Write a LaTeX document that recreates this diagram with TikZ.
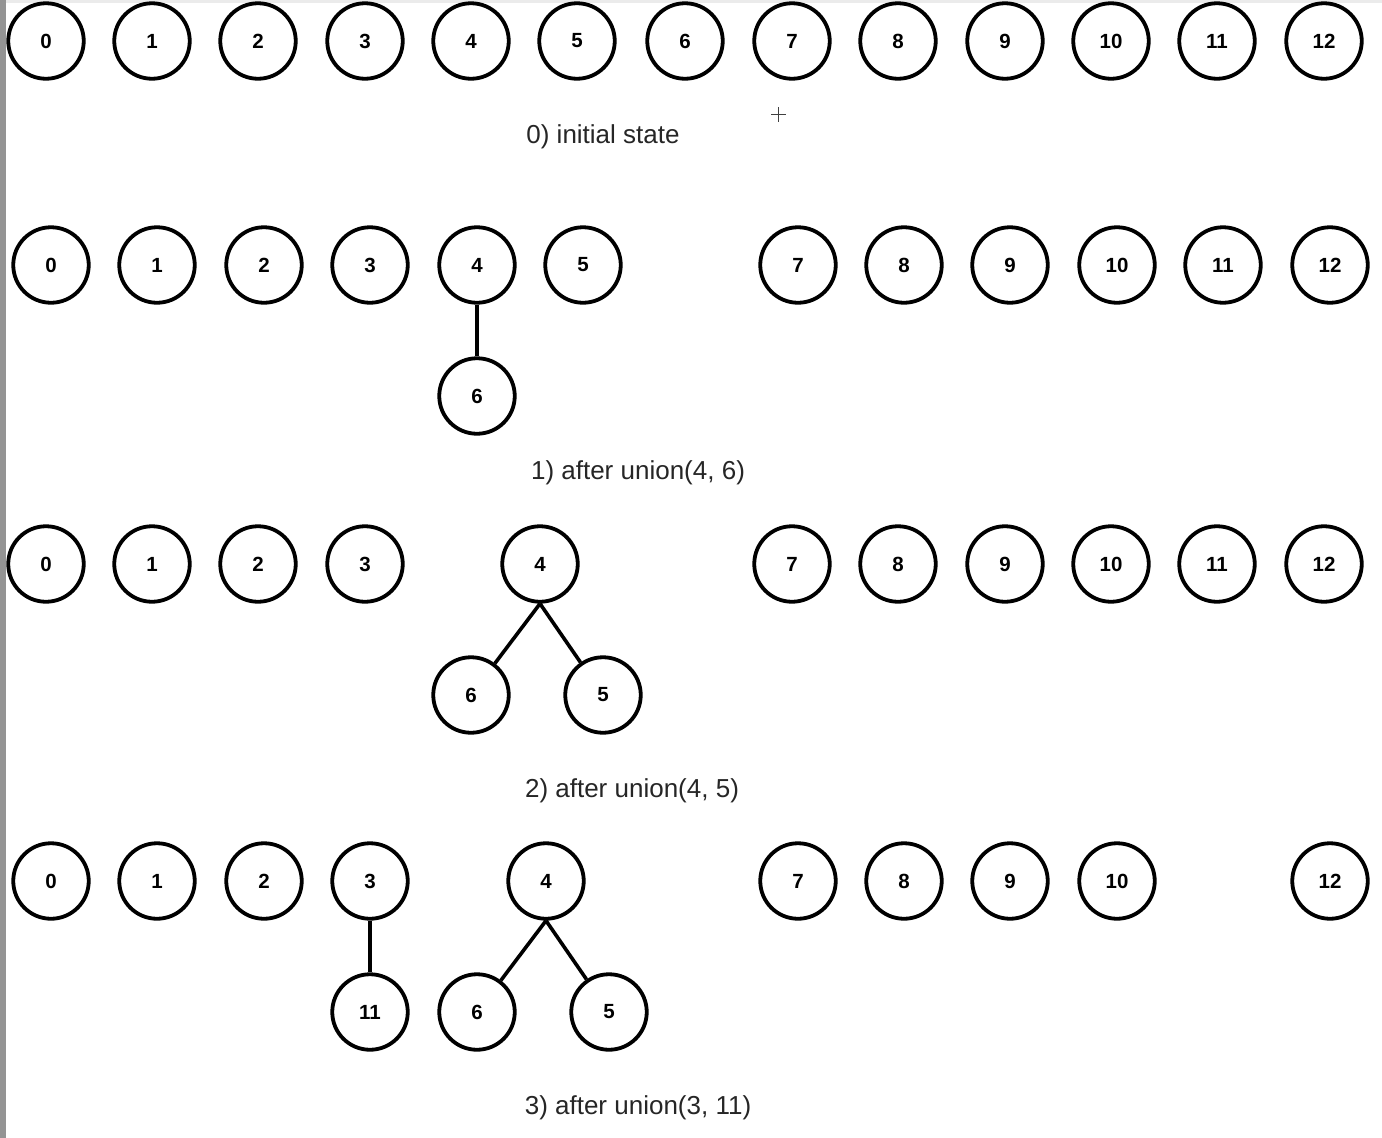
\documentclass[tikz,border=0pt]{standalone}
\usepackage{fontspec}
\setmainfont{Liberation Sans}
\begin{document}
\begin{tikzpicture}[x=1pt,y=-1pt,
  uf/.style={circle,draw=black,line width=3.8pt,minimum size=75.5pt,inner sep=0pt,font=\fontsize{20.5}{22}\selectfont\bfseries},
  link/.style={line width=3.6pt},
  steptext/.style={font=\fontsize{26}{28}\selectfont, text=black!85}]
\useasboundingbox (0,0) rectangle (1382,1138);
\fill[white] (0,0) rectangle (1382,1138);
\fill[black!8] (0,0) rectangle (1382,3);
\fill[black!42] (0,0) rectangle (6,1138);
% row 0
\foreach \x/\n in {46/0,152/1,258/2,365/3,471/4,577/5,685/6,792/7,898/8,1005/9,1111/10,1217/11,1324/12}
  \node[uf] (a\n) at (\x,41) {\n};
\node[steptext] (capA) at (603,137) {0) initial state};
\draw[black!75,line width=1pt] (771,114) -- (786,114) (778.5,107) -- (778.5,122);
% row 1
\foreach \x/\n in {51/0,157/1,264/2,370/3,477/4,583/5,798/7,904/8,1010/9,1117/10,1223/11,1330/12}
  \node[uf] (b\n) at (\x,265) {\n};
\node[uf] (b6) at (477,396) {6};
\draw[link] (b4) -- (b6);
\node[steptext] (capB) at (638,473) {1) after union(4, 6)};
% row 2
\foreach \x/\n in {46/0,152/1,258/2,365/3,540/4,792/7,898/8,1005/9,1111/10,1217/11,1324/12}
  \node[uf] (c\n) at (\x,564) {\n};
\node[uf] (c6) at (471,695) {6};
\node[uf] (c5) at (603,695) {5};
\draw[link] (c4.south) -- (c6);
\draw[link] (c4.south) -- (c5);
\node[steptext] (capC) at (632,791) {2) after union(4, 5)};
% row 3
\foreach \x/\n in {51/0,157/1,264/2,370/3,546/4,798/7,904/8,1010/9,1117/10,1330/12}
  \node[uf] (d\n) at (\x,881) {\n};
\node[uf] (d11) at (370,1012) {11};
\node[uf] (d6) at (477,1012) {6};
\node[uf] (d5) at (609,1012) {5};
\draw[link] (d3) -- (d11);
\draw[link] (d4.south) -- (d6);
\draw[link] (d4.south) -- (d5);
\node[steptext] (capD) at (638,1108) {3) after union(3, 11)};
\end{tikzpicture}
\end{document}
